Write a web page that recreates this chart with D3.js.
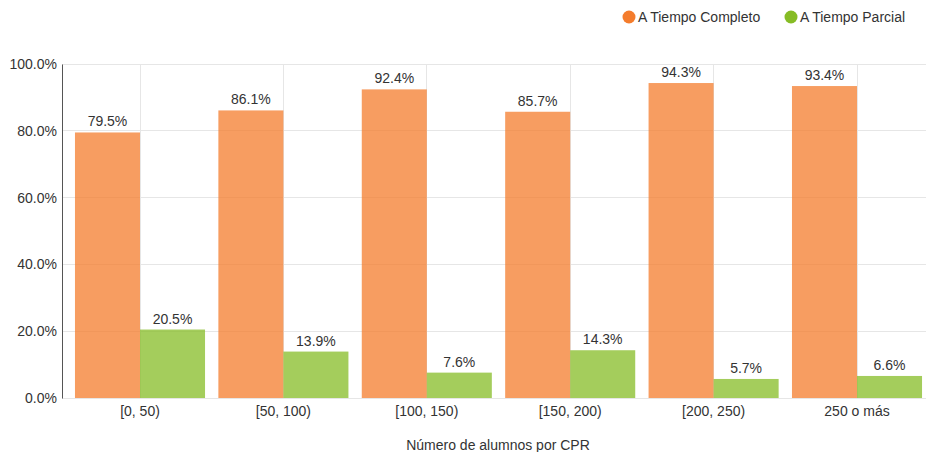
<!DOCTYPE html>
<html><head><meta charset="utf-8">
<script src="https://cdn.jsdelivr.net/npm/d3@7"></script>
<style>body{margin:0;background:#fff;font-family:"Liberation Sans",Arial,sans-serif;}</style>
</head><body>
<svg id="c" width="926" height="452"></svg>
<script>
const categories = ["[0, 50)", "[50, 100)", "[100, 150)", "[150, 200)", "[200, 250)", "250 o más"];
const seriesNames = ["A Tiempo Completo", "A Tiempo Parcial"];
const completo = [79.5, 86.1, 92.4, 85.7, 94.3, 93.4];
const parcial = [20.5, 13.9, 7.6, 14.3, 5.7, 6.6];
const yTicks = [0, 20, 40, 60, 80, 100];
const colors = ["#f47c2c", "#86bc25"];
const xTitle = "Número de alumnos por CPR";

(function () {
const svg = d3.select("#c");
const axisX = 62, plotTop = 64, plotBottom = 398, plotRight = 926;
const x = d3.scaleBand().domain(categories).range([68.3, 928.7]).paddingInner(0.093).paddingOuter(0.0465);
const xs = d3.scaleBand().domain(seriesNames).range([0, x.bandwidth()]);
const y = d3.scaleLinear().domain([0, 100]).range([plotBottom, plotTop]);
const font = "Liberation Sans, Arial, sans-serif";
const fs = 14;

svg.append("g").selectAll("line").data(yTicks).join("line")
  .attr("x1", axisX).attr("x2", plotRight).attr("y1", d => y(d)).attr("y2", d => y(d))
  .attr("stroke", "#e6e6e6").attr("stroke-width", 1).attr("shape-rendering", "crispEdges");
svg.append("g").selectAll("line").data(categories).join("line")
  .attr("x1", d => x(d) + x.bandwidth() / 2).attr("x2", d => x(d) + x.bandwidth() / 2)
  .attr("y1", plotTop).attr("y2", plotBottom)
  .attr("stroke", "#e6e6e6").attr("stroke-width", 1).attr("shape-rendering", "crispEdges");

const data = [completo, parcial];
data.forEach((vals, si) => {
  const g = svg.append("g");
  g.selectAll("rect").data(vals).join("rect")
    .attr("x", (d, i) => x(categories[i]) + xs(seriesNames[si]))
    .attr("width", xs.bandwidth())
    .attr("y", d => y(d)).attr("height", d => plotBottom - y(d))
    .attr("fill", colors[si]).attr("fill-opacity", 0.75);
  g.selectAll("text").data(vals).join("text")
    .attr("x", (d, i) => x(categories[i]) + xs(seriesNames[si]) + xs.bandwidth() / 2)
    .attr("y", d => y(d) - 6)
    .attr("text-anchor", "middle").attr("font-size", fs).attr("font-family", font)
    .attr("fill", "#333").text(d => d.toFixed(1) + "%");
});

const ya = svg.append("g").attr("transform", `translate(${axisX},0)`)
  .call(d3.axisLeft(y).tickValues(yTicks).tickFormat(d => d.toFixed(1) + "%").tickSize(0).tickPadding(5));
ya.select(".domain").attr("stroke", "#555");
ya.selectAll("text").attr("font-size", fs).attr("font-family", font).attr("fill", "#333");

const xa = svg.append("g").attr("transform", `translate(0,${plotBottom})`)
  .call(d3.axisBottom(x).tickSize(0).tickPadding(8));
xa.select(".domain").remove();
xa.selectAll("text").attr("font-size", fs).attr("font-family", font).attr("fill", "#333");

svg.append("text").attr("x", 498).attr("y", 450).attr("text-anchor", "middle")
  .attr("font-size", fs).attr("font-family", font).attr("fill", "#333").text(xTitle);

const legX = [629, 791];
seriesNames.forEach((s, i) => {
  svg.append("circle").attr("cx", legX[i]).attr("cy", 17).attr("r", 6.5).attr("fill", colors[i]);
  svg.append("text").attr("x", legX[i] + 9).attr("y", 22).attr("font-size", fs)
    .attr("font-family", font).attr("fill", "#333").text(s);
});
})();
</script>
</body></html>
